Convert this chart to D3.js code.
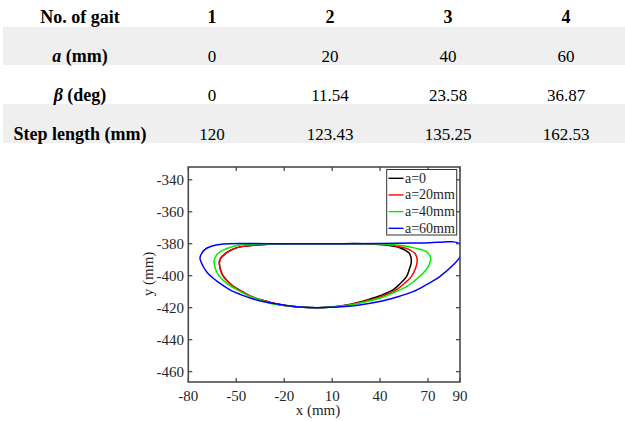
<!DOCTYPE html>
<html>
<head>
<meta charset="utf-8">
<script src="https://cdn.jsdelivr.net/npm/d3@7"></script>
<style>
  body { margin: 0; background: #fff; }
  svg { display: block; font-family: "Liberation Serif", "Times New Roman", serif; }
</style>
</head>
<body>
<svg width="625" height="421"></svg>
<script>
// Table values
const gaitNos = ["1", "2", "3", "4"];
const aValues = ["0", "20", "40", "60"];
const betaValues = ["0", "11.54", "23.58", "36.87"];
const stepLengths = ["120", "123.43", "135.25", "162.53"];

// Foot trajectories (x, y in mm)
const gaitA0 = [[-43.5,-381.4],[-30,-380.3],[-10,-380],[10,-380],[30,-380],[45,-381],[53,-382.8],[58.3,-386],[59.6,-391],[58.3,-396],[56.5,-400.6],[52.5,-405],[48.1,-408.9],[40,-412.5],[33.6,-414.6],[20,-418.2],[8,-419.8],[0,-420],[-10,-419.6],[-24.8,-417.7],[-33,-415.5],[-41.4,-412.7],[-47.5,-409.3],[-52.9,-405.8],[-57,-401.8],[-59.1,-398.5],[-60.6,-392.2],[-59.8,-389.1],[-57.5,-386.8],[-55,-385],[-50,-382.6]];
const gaitA20 = [[-43.5,-381.4],[-30,-380.3],[-10,-380],[10,-380],[30,-380],[45,-380.7],[52,-381.8],[56.5,-382.9],[61.7,-386],[63.2,-390.2],[62.3,-395],[59.6,-400.6],[55,-405],[50.2,-408.9],[42,-412.6],[33.6,-415.2],[20,-418.3],[8,-419.8],[0,-420],[-10,-419.6],[-24.8,-417.7],[-33,-415.5],[-41.4,-412.7],[-47.5,-409.3],[-52.9,-405.8],[-57,-401.8],[-59.1,-398.5],[-60.6,-392.2],[-59.8,-389.1],[-57.5,-386.8],[-55,-385],[-50,-382.6]];
const gaitA40 = [[-47.7,-380.8],[-35,-380.2],[-10,-380],[10,-380],[30,-380],[45,-380.3],[55,-381.3],[62.7,-382.9],[69,-385],[71.7,-389],[70.5,-393.5],[66.9,-398.5],[62,-402.8],[56.5,-406.9],[48,-410.8],[39.8,-414.1],[30,-416.6],[21,-418.3],[10,-419.6],[0,-420],[-10,-419.6],[-26.9,-417.7],[-35,-415.2],[-43.5,-412],[-50,-408.5],[-56,-404.8],[-60,-401],[-62.3,-397.5],[-63.9,-391.2],[-62.3,-387],[-58.1,-384],[-53,-382]];
const gaitA60 = [[-58.1,-380.2],[-45,-379.9],[-20,-380],[10,-380],[40,-379.8],[60,-379.6],[71,-379.4],[80,-378.9],[85.6,-378.8],[89.5,-379.8],[91.5,-383],[90.5,-387.5],[86,-393],[77.3,-400.6],[69,-405.6],[60.6,-410],[50,-413.5],[39.8,-416.2],[25,-418.6],[8.5,-419.8],[0.25,-420],[-8,-419.7],[-16.4,-418.9],[-27,-417.3],[-37.3,-415.2],[-46,-412.3],[-53.9,-408.9],[-59.5,-405.3],[-64.4,-401.6],[-68.2,-398],[-70.6,-394.4],[-72.7,-389],[-71.6,-386],[-69.5,-383.5],[-66.4,-381.9],[-62.5,-380.8]];

const seriesNames = ["a=0", "a=20mm", "a=40mm", "a=60mm"];
const seriesColors = ["#000000", "#ff0000", "#00ee00", "#0000ff"];
const seriesData = [gaitA0, gaitA20, gaitA40, gaitA60];

const xTicks = [-80, -50, -20, 10, 40, 70, 90];
const yTicks = [-460, -440, -420, -400, -380, -360, -340];

const svg = d3.select("svg");

// ---------- Table ----------
const col = d3.scalePoint().domain(gaitNos).range([212, 566]);
const labelX = 80;

// shaded rows
svg.append("rect").attr("x", 3).attr("y", 27).attr("width", 622).attr("height", 38).attr("fill", "#efefef");
svg.append("rect").attr("x", 3).attr("y", 104).attr("width", 622).attr("height", 39).attr("fill", "#efefef");

// header row
svg.append("text").attr("x", labelX).attr("y", 23).attr("text-anchor", "middle")
    .style("font-size", "18px").style("font-weight", "bold").text("No. of gait");
svg.selectAll(".hdr").data(gaitNos).enter().append("text")
    .attr("class", "hdr")
    .attr("x", d => col(d)).attr("y", 23).attr("text-anchor", "middle")
    .style("font-size", "18px").style("font-weight", "bold").text(d => d);

// body rows
const rows = [
    {sym: "a", unit: " (mm)", vals: aValues, y: 62},
    {sym: "\u03B2", unit: " (deg)", vals: betaValues, y: 101},
    {sym: "", unit: "Step length (mm)", vals: stepLengths, y: 139.5}
];
rows.forEach(r => {
    const t = svg.append("text").attr("x", labelX).attr("y", r.y).attr("text-anchor", "middle")
        .style("font-size", "18px").style("font-weight", "bold");
    if (r.sym) t.append("tspan").style("font-style", "italic").text(r.sym);
    t.append("tspan").text(r.unit);
    svg.selectAll(null).data(r.vals).enter().append("text")
        .attr("x", (d, i) => col(gaitNos[i])).attr("y", r.y).attr("text-anchor", "middle")
        .style("font-size", "17px").text(d => d);
});

// ---------- Plot ----------
const plot = {left: 188.3, right: 460, top: 167, bottom: 382};
const x = d3.scaleLinear().domain([-80, 90]).range([plot.left, plot.right]);
const y = d3.scaleLinear().domain([-466.5, -332]).range([plot.bottom, plot.top]);
const axisColor = "#4a4a4a";

svg.append("clipPath").attr("id", "clip").append("rect")
    .attr("x", plot.left).attr("y", plot.top)
    .attr("width", plot.right - plot.left).attr("height", plot.bottom - plot.top);

const line = d3.line().x(d => x(d[0])).y(d => y(d[1])).curve(d3.curveCatmullRomClosed.alpha(0.5));

svg.append("g").attr("clip-path", "url(#clip)")
  .selectAll("path").data(seriesData).enter().append("path")
    .attr("d", line)
    .attr("fill", "none")
    .attr("stroke", (d, i) => seriesColors[i])
    .attr("stroke-width", 1.5);

// axes (MATLAB style: inner ticks, box)
const tickLen = 4;
const ax = svg.append("g").attr("stroke", axisColor).attr("stroke-width", 1.3);
xTicks.forEach(t => {
    ax.append("line").attr("x1", x(t)).attr("x2", x(t)).attr("y1", plot.bottom).attr("y2", plot.bottom - tickLen);
    ax.append("line").attr("x1", x(t)).attr("x2", x(t)).attr("y1", plot.top).attr("y2", plot.top + tickLen);
});
yTicks.forEach(t => {
    ax.append("line").attr("x1", plot.left).attr("x2", plot.left + tickLen).attr("y1", y(t)).attr("y2", y(t));
    ax.append("line").attr("x1", plot.right).attr("x2", plot.right - tickLen).attr("y1", y(t)).attr("y2", y(t));
});
ax.append("rect")
    .attr("x", plot.left).attr("y", plot.top)
    .attr("width", plot.right - plot.left).attr("height", plot.bottom - plot.top)
    .attr("fill", "none").attr("stroke-width", 1.6);

svg.selectAll(".xt").data(xTicks).enter().append("text")
    .attr("class", "xt")
    .attr("x", d => x(d)).attr("y", 400.5).attr("text-anchor", "middle")
    .style("font-size", "15px").attr("fill", "#262626").text(d => d);
svg.selectAll(".yt").data(yTicks).enter().append("text")
    .attr("class", "yt")
    .attr("x", 184).attr("y", d => y(d) + 5).attr("text-anchor", "end")
    .style("font-size", "15px").attr("fill", "#262626").text(d => d);

svg.append("text").attr("x", 318).attr("y", 415).attr("text-anchor", "middle")
    .style("font-size", "15px").attr("fill", "#262626").text("x (mm)");
svg.append("text").attr("transform", "translate(153,274) rotate(-90)").attr("text-anchor", "middle")
    .style("font-size", "15px").attr("fill", "#262626").text("y (mm)");

// legend
const lg = svg.append("g");
lg.append("rect").attr("x", 386.7).attr("y", 169.5).attr("width", 70).attr("height", 65.5)
    .attr("fill", "#fff").attr("stroke", "#333").attr("stroke-width", 1);
const ly = d3.scalePoint().domain(seriesNames).range([178.3, 228.3]);
seriesNames.forEach((n, i) => {
    lg.append("line").attr("x1", 388.5).attr("x2", 403.5).attr("y1", ly(n)).attr("y2", ly(n))
        .attr("stroke", seriesColors[i]).attr("stroke-width", 1.4);
    lg.append("text").attr("x", 405).attr("y", ly(n) + 4.5)
        .style("font-size", "14px").attr("fill", "#262626").text(n);
});
</script>
</body>
</html>
